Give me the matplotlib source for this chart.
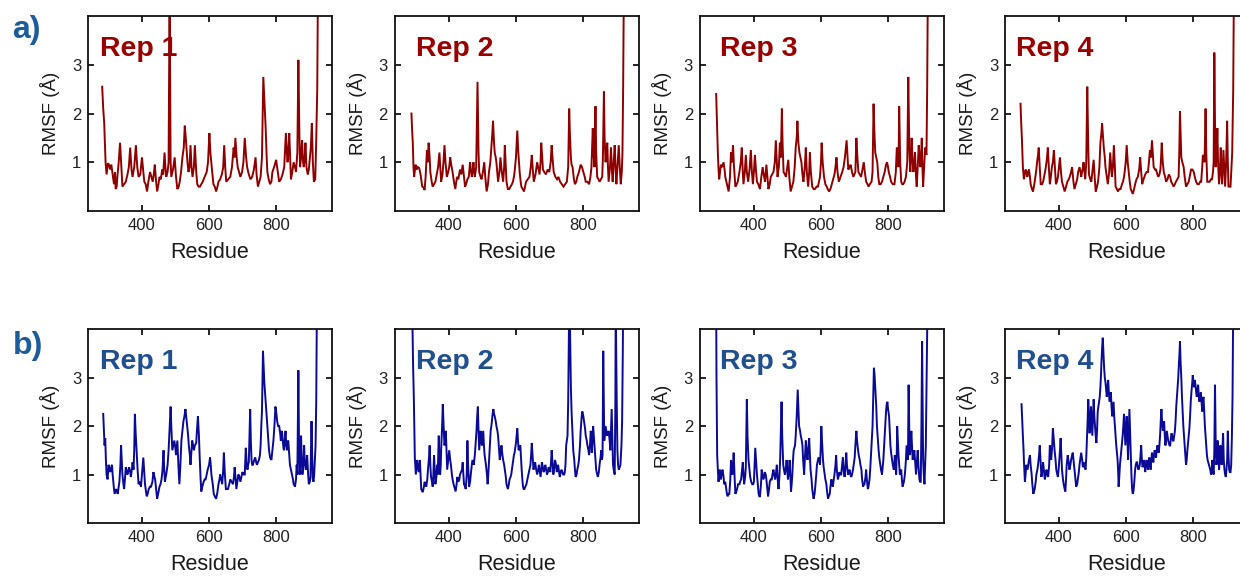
import matplotlib
matplotlib.use("Agg")
import matplotlib.pyplot as plt

plt.rcParams["font.family"] = ["Liberation Sans", "DejaVu Sans"]

# (residue, RMSF in Angstrom) for each replica; row a = system A, row b = system B
A1 = [(283, 2.55), (286, 2.1), (289, 1.8), (293, 1.0), (296, 0.75), (300, 0.98), (303, 0.95), (307, 0.85),
      (310, 0.95), (313, 0.8), (316, 0.65), (318, 0.55), (321, 0.8), (323, 0.45), (326, 0.5), (328, 0.7),
      (332, 1.0), (336, 1.4), (340, 0.9), (343, 0.5), (348, 0.55), (353, 0.6), (358, 0.75), (362, 0.9),
      (366, 1.3), (370, 0.85), (373, 0.7), (378, 0.9), (383, 1.35), (387, 0.9), (391, 0.7), (396, 0.75),
      (401, 1.1), (405, 0.8), (408, 0.6), (412, 0.55), (416, 0.4), (420, 0.6), (425, 0.8), (429, 0.7),
      (433, 0.6), (436, 0.75), (439, 0.95), (443, 0.6), (446, 0.4), (450, 0.55), (453, 0.7), (457, 0.65),
      (461, 0.85), (464, 0.75), (468, 1.2), (471, 0.85), (473, 0.7), (477, 0.8), (480, 1.0), (483, 4.5),
      (486, 1.0), (488, 0.7), (493, 0.85), (498, 1.1), (502, 0.7), (506, 0.45), (510, 0.5), (513, 0.6),
      (517, 0.8), (521, 1.1), (525, 1.3), (528, 1.75), (531, 1.5), (533, 1.3), (536, 1.0), (539, 0.8),
      (542, 0.9), (545, 1.35), (548, 0.9), (551, 0.7), (555, 0.9), (558, 1.35), (562, 0.8), (565, 0.55),
      (569, 0.5), (573, 0.5), (577, 0.55), (581, 0.6), (587, 0.7), (593, 0.8), (597, 1.0), (601, 1.6),
      (604, 1.2), (608, 0.9), (611, 0.7), (613, 0.55), (617, 0.5), (621, 0.4), (625, 0.5), (628, 0.6),
      (633, 0.65), (638, 0.75), (642, 0.9), (645, 1.35), (648, 0.9), (651, 0.6), (657, 0.65), (663, 0.7),
      (668, 0.9), (673, 1.3), (676, 1.1), (678, 1.5), (682, 1.1), (685, 0.9), (689, 0.8), (693, 0.7),
      (698, 0.8), (702, 1.0), (706, 1.5), (710, 1.1), (713, 0.9), (718, 0.75), (723, 0.65), (728, 0.7),
      (733, 0.85), (738, 1.1), (741, 0.75), (745, 0.5), (749, 0.6), (753, 0.7), (757, 1.1), (761, 2.75),
      (764, 2.3), (768, 1.7), (771, 1.1), (773, 0.8), (777, 0.65), (781, 0.55), (785, 0.6), (788, 0.8),
      (793, 0.9), (799, 1.05), (803, 0.85), (808, 0.6), (813, 0.65), (818, 0.75), (823, 0.9), (828, 1.6),
      (831, 1.2), (833, 1.0), (836, 1.3), (838, 1.6), (841, 1.0), (843, 0.65), (847, 0.8), (851, 1.0),
      (855, 0.9), (858, 0.8), (862, 1.2), (865, 3.1), (868, 1.6), (870, 0.9), (873, 1.1), (876, 1.45),
      (879, 1.0), (881, 0.9), (884, 1.1), (886, 1.4), (889, 0.9), (893, 0.75), (896, 0.85), (898, 1.0),
      (902, 1.3), (905, 1.8), (908, 1.0), (911, 0.6), (915, 0.65), (918, 1.45), (921, 2.5), (923, 4.5)]

A2 = [(290, 2.0), (292, 1.65), (294, 1.4), (296, 0.9), (298, 0.7), (302, 0.95), (305, 0.85), (309, 0.9),
      (313, 0.88), (317, 0.75), (320, 0.6), (322, 0.5), (326, 0.48), (329, 0.43), (332, 0.7), (336, 1.25),
      (338, 1.0), (341, 1.4), (344, 1.1), (346, 0.8), (350, 0.6), (353, 0.5), (357, 0.55), (361, 0.6),
      (365, 0.75), (369, 0.9), (373, 1.2), (376, 0.85), (378, 0.6), (382, 0.75), (385, 1.0), (388, 1.35),
      (391, 1.0), (395, 0.7), (399, 0.8), (402, 0.9), (405, 1.1), (408, 0.95), (412, 0.8), (416, 0.6),
      (420, 0.45), (425, 0.7), (429, 0.65), (434, 0.85), (438, 0.75), (442, 0.95), (446, 0.7), (449, 0.5),
      (452, 0.55), (456, 0.65), (460, 0.7), (464, 1.0), (467, 0.8), (469, 0.7), (472, 0.85), (474, 1.0),
      (476, 0.8), (478, 0.7), (482, 0.9), (486, 2.65), (489, 1.2), (491, 0.8), (495, 0.7), (498, 0.65),
      (502, 0.8), (506, 1.0), (509, 0.7), (513, 0.4), (517, 0.55), (520, 0.8), (524, 1.0), (527, 1.3),
      (530, 1.6), (532, 1.85), (535, 1.4), (537, 1.2), (540, 1.1), (542, 1.0), (545, 0.75), (547, 0.6),
      (551, 0.8), (554, 1.1), (558, 0.8), (562, 0.6), (565, 0.9), (567, 1.35), (570, 0.9), (572, 0.6),
      (576, 0.45), (580, 0.45), (584, 0.5), (588, 0.55), (591, 0.6), (594, 0.7), (596, 0.8), (600, 1.1),
      (604, 1.65), (607, 1.2), (611, 0.8), (614, 0.6), (616, 0.5), (620, 0.45), (624, 0.4), (627, 0.5),
      (630, 0.6), (635, 0.65), (640, 0.7), (644, 0.9), (647, 1.15), (650, 0.85), (653, 0.6), (658, 0.75),
      (663, 1.0), (667, 0.85), (670, 0.75), (673, 1.0), (675, 1.4), (678, 1.1), (680, 0.85), (684, 0.8),
      (689, 0.75), (694, 0.85), (699, 0.8), (703, 1.0), (706, 1.35), (709, 1.05), (712, 0.8), (717, 0.7),
      (722, 0.65), (726, 0.7), (731, 0.6), (736, 0.55), (741, 0.5), (746, 0.55), (751, 0.6), (755, 0.9),
      (758, 2.1), (760, 1.6), (763, 1.1), (765, 0.95), (768, 0.9), (772, 0.65), (775, 0.55), (779, 0.6),
      (782, 0.7), (787, 0.8), (792, 0.95), (796, 0.9), (800, 0.8), (804, 0.7), (807, 0.6), (812, 0.6),
      (817, 0.55), (821, 0.7), (824, 0.9), (826, 1.3), (828, 1.7), (830, 1.2), (833, 0.9), (836, 2.15),
      (838, 1.2), (841, 0.7), (845, 0.65), (848, 0.6), (852, 0.65), (856, 0.7), (858, 1.1), (861, 2.45),
      (863, 1.5), (866, 1.0), (868, 1.2), (871, 1.4), (873, 0.9), (875, 0.6), (879, 0.9), (882, 1.3),
      (885, 0.8), (887, 0.6), (890, 1.0), (893, 1.35), (896, 0.8), (898, 0.55), (902, 1.0), (905, 1.35),
      (908, 0.9), (911, 0.55), (914, 0.8), (916, 1.2), (918, 2.5), (920, 4.5)]

A3 = [(289, 2.4), (292, 1.65), (294, 1.2), (296, 0.85), (298, 0.65), (303, 0.95), (307, 0.9), (311, 1.0),
      (314, 0.85), (316, 0.7), (321, 0.55), (324, 0.45), (326, 0.4), (330, 0.7), (333, 1.2), (336, 1.0),
      (339, 1.35), (342, 0.9), (346, 0.5), (350, 0.55), (353, 0.6), (358, 0.8), (362, 1.0), (365, 1.3),
      (368, 0.8), (370, 0.55), (374, 0.8), (377, 1.15), (380, 0.8), (384, 0.6), (388, 0.85), (392, 1.25),
      (395, 0.8), (398, 0.55), (401, 0.8), (404, 1.15), (407, 0.85), (410, 0.6), (414, 0.55), (419, 0.45),
      (423, 0.7), (427, 0.9), (430, 0.75), (434, 0.6), (438, 0.95), (441, 0.7), (444, 0.45), (448, 0.55),
      (451, 0.7), (455, 0.75), (459, 0.8), (463, 1.0), (466, 1.45), (469, 1.0), (471, 0.7), (475, 0.9),
      (478, 1.4), (481, 1.1), (484, 2.1), (486, 1.4), (489, 0.8), (493, 0.75), (496, 0.7), (500, 0.9),
      (503, 1.05), (506, 0.7), (510, 0.4), (514, 0.5), (518, 0.6), (522, 0.9), (525, 1.3), (528, 1.5),
      (530, 1.85), (533, 1.4), (536, 1.2), (539, 1.1), (542, 1.0), (545, 0.75), (548, 0.6), (552, 0.9),
      (555, 1.3), (558, 0.8), (562, 0.5), (565, 0.8), (567, 1.2), (570, 0.8), (574, 0.5), (578, 0.45),
      (582, 0.45), (587, 0.5), (591, 0.5), (594, 0.6), (597, 0.7), (600, 1.0), (602, 1.4), (605, 1.0),
      (609, 0.7), (613, 0.55), (617, 0.5), (620, 0.45), (624, 0.4), (628, 0.45), (632, 0.55), (636, 0.65),
      (640, 0.75), (643, 0.9), (646, 1.1), (649, 0.8), (653, 0.6), (658, 0.7), (663, 0.8), (667, 0.9),
      (671, 1.1), (674, 1.3), (676, 1.45), (679, 1.1), (681, 0.85), (685, 0.9), (688, 0.95), (692, 0.8),
      (696, 0.7), (699, 0.75), (702, 0.8), (705, 1.5), (708, 1.1), (711, 0.8), (715, 0.75), (719, 0.7),
      (723, 0.85), (727, 1.0), (730, 0.8), (734, 0.6), (738, 0.55), (741, 0.5), (745, 0.55), (750, 0.6),
      (753, 0.8), (756, 2.2), (758, 1.7), (761, 1.2), (764, 1.1), (767, 1.0), (770, 0.7), (773, 0.55),
      (777, 0.55), (781, 0.6), (785, 0.7), (789, 0.8), (793, 0.95), (796, 1.0), (799, 0.9), (801, 0.8),
      (805, 0.7), (808, 0.6), (813, 0.55), (818, 0.55), (822, 0.8), (825, 1.3), (828, 1.1), (830, 0.9),
      (832, 2.15), (835, 1.0), (838, 0.6), (841, 0.55), (844, 0.55), (848, 0.6), (852, 0.7), (856, 1.0),
      (859, 2.75), (862, 1.3), (865, 0.8), (867, 1.1), (869, 1.5), (872, 1.0), (874, 0.8), (877, 1.0),
      (879, 1.2), (882, 0.7), (884, 0.5), (887, 0.9), (890, 1.35), (893, 1.1), (895, 0.9), (897, 1.1),
      (899, 1.5), (901, 0.9), (903, 0.5), (906, 0.9), (909, 1.3), (911, 1.2), (913, 1.15), (915, 2.5),
      (917, 4.5)]

A4 = [(287, 2.2), (289, 1.8), (291, 1.5), (294, 0.9), (297, 0.65), (302, 0.85), (305, 0.8), (307, 0.7),
      (310, 0.8), (312, 0.85), (315, 0.7), (317, 0.55), (321, 0.45), (324, 0.4), (328, 0.55), (331, 0.7),
      (334, 0.85), (336, 1.0), (339, 1.15), (341, 1.3), (344, 0.9), (347, 0.55), (351, 0.55), (354, 0.6),
      (358, 0.75), (361, 0.85), (365, 1.05), (368, 1.3), (371, 0.9), (374, 0.55), (377, 0.7), (380, 0.9),
      (383, 1.0), (386, 1.25), (389, 0.9), (392, 0.55), (395, 0.6), (398, 0.7), (401, 0.9), (404, 1.1),
      (407, 0.8), (410, 0.6), (414, 0.5), (418, 0.4), (422, 0.5), (426, 0.6), (430, 0.65), (433, 0.7),
      (437, 0.8), (440, 0.9), (444, 0.6), (447, 0.45), (451, 0.55), (455, 0.65), (458, 0.8), (462, 0.9),
      (465, 0.8), (467, 0.7), (471, 0.85), (474, 1.0), (477, 0.8), (479, 0.65), (482, 1.0), (485, 2.55),
      (488, 1.3), (490, 0.75), (494, 0.65), (497, 0.6), (501, 0.85), (504, 1.05), (507, 0.7), (510, 0.4),
      (514, 0.5), (517, 0.6), (521, 0.9), (524, 1.4), (527, 1.6), (529, 1.8), (532, 1.5), (534, 1.3),
      (537, 1.1), (539, 0.9), (543, 0.7), (546, 0.55), (550, 0.8), (553, 1.2), (556, 0.9), (558, 0.7),
      (561, 0.9), (564, 1.35), (567, 0.9), (569, 0.5), (573, 0.45), (576, 0.4), (580, 0.45), (584, 0.45),
      (588, 0.55), (591, 0.6), (594, 0.7), (596, 0.8), (599, 1.0), (602, 1.35), (605, 1.0), (608, 0.8),
      (611, 0.6), (614, 0.45), (617, 0.4), (620, 0.35), (624, 0.45), (627, 0.55), (631, 0.65), (635, 0.7),
      (639, 0.85), (642, 1.1), (645, 0.8), (648, 0.55), (652, 0.65), (657, 0.75), (661, 0.8), (665, 0.8),
      (668, 1.0), (671, 1.25), (674, 1.1), (677, 1.45), (680, 1.1), (682, 0.9), (686, 0.85), (689, 0.85),
      (693, 0.75), (696, 0.7), (699, 0.75), (702, 0.85), (704, 1.1), (706, 1.4), (709, 1.0), (712, 0.8),
      (716, 0.7), (719, 0.6), (723, 0.65), (727, 0.75), (731, 0.7), (734, 0.6), (738, 0.55), (741, 0.5),
      (745, 0.55), (748, 0.6), (752, 0.65), (756, 0.7), (758, 1.2), (760, 2.05), (762, 1.6), (764, 1.1),
      (767, 1.0), (771, 0.9), (774, 0.7), (778, 0.5), (782, 0.55), (786, 0.6), (790, 0.75), (793, 0.85),
      (797, 0.85), (801, 0.8), (804, 0.7), (808, 0.6), (812, 0.55), (816, 0.55), (820, 0.6), (823, 0.6),
      (826, 0.9), (828, 1.15), (831, 1.1), (833, 1.0), (836, 2.1), (838, 1.2), (841, 0.6), (845, 0.6),
      (848, 0.6), (852, 0.65), (855, 0.65), (858, 0.8), (860, 1.0), (862, 3.25), (864, 1.8), (866, 0.9),
      (869, 1.2), (871, 1.7), (873, 1.0), (876, 0.55), (879, 0.9), (881, 1.3), (883, 0.8), (885, 0.55),
      (887, 0.9), (889, 1.25), (892, 0.8), (894, 0.5), (897, 1.0), (900, 1.85), (902, 1.0), (904, 0.5),
      (907, 0.5), (910, 0.5), (913, 0.9), (915, 1.2), (918, 2.5), (920, 4.5)]

B1 = [(286, 2.25), (288, 1.9), (290, 1.6), (292, 1.75), (294, 1.3), (296, 1.0), (299, 0.9), (302, 1.2),
      (305, 1.1), (307, 1.05), (310, 1.15), (312, 1.2), (314, 1.0), (316, 0.85), (318, 0.7), (320, 0.6),
      (322, 0.65), (324, 0.7), (327, 0.65), (329, 0.6), (332, 0.75), (334, 0.85), (337, 1.2), (339, 1.6),
      (341, 1.3), (343, 1.0), (346, 0.8), (348, 0.7), (351, 0.95), (353, 1.15), (356, 1.05), (358, 1.0),
      (361, 1.1), (363, 1.15), (366, 1.05), (368, 0.95), (371, 1.1), (373, 1.25), (376, 1.1), (378, 1.5),
      (380, 2.25), (382, 1.9), (385, 1.5), (388, 1.1), (391, 0.8), (394, 0.85), (398, 0.75), (401, 1.0),
      (405, 1.35), (408, 1.0), (410, 0.8), (413, 0.65), (415, 0.55), (418, 0.6), (421, 0.7), (425, 0.75),
      (428, 0.75), (432, 0.85), (435, 1.05), (438, 0.95), (440, 0.9), (443, 0.7), (446, 0.5), (449, 0.6),
      (453, 0.75), (456, 0.8), (459, 0.9), (462, 1.1), (465, 1.5), (467, 1.1), (469, 0.85), (473, 1.0),
      (477, 1.2), (480, 1.5), (482, 1.8), (484, 2.1), (486, 2.4), (488, 2.0), (491, 1.5), (494, 1.6),
      (497, 1.7), (500, 1.55), (502, 1.4), (504, 1.55), (506, 1.7), (509, 1.2), (512, 0.8), (515, 1.2),
      (518, 1.7), (521, 1.9), (524, 2.1), (527, 2.2), (530, 2.35), (533, 2.15), (535, 2.0), (538, 1.8),
      (540, 1.6), (543, 1.4), (545, 1.2), (548, 1.5), (550, 1.7), (553, 1.6), (555, 1.5), (558, 1.6),
      (562, 1.65), (564, 1.9), (567, 2.2), (570, 1.8), (572, 1.4), (575, 0.9), (577, 0.65), (580, 0.75),
      (584, 0.85), (587, 0.9), (590, 0.9), (593, 1.0), (596, 1.1), (600, 1.2), (603, 1.35), (605, 1.2),
      (607, 1.0), (611, 0.8), (614, 0.6), (617, 0.55), (621, 0.5), (624, 0.6), (628, 0.8), (631, 0.9),
      (633, 1.0), (636, 0.9), (639, 0.8), (642, 1.1), (644, 1.45), (647, 1.0), (650, 0.7), (653, 0.7),
      (656, 0.7), (660, 0.8), (663, 0.9), (667, 0.85), (671, 0.8), (674, 0.95), (676, 1.15), (679, 0.9),
      (681, 0.7), (684, 0.85), (687, 1.0), (690, 0.95), (693, 0.85), (696, 0.95), (699, 1.05), (703, 1.0),
      (706, 1.0), (709, 1.55), (712, 1.2), (714, 1.1), (716, 1.2), (718, 1.25), (720, 1.8), (722, 2.35),
      (724, 1.7), (726, 1.3), (728, 1.2), (730, 1.2), (734, 1.3), (737, 1.35), (740, 1.25), (742, 1.2),
      (745, 1.25), (748, 1.3), (751, 1.4), (753, 1.6), (755, 2.0), (757, 2.3), (760, 3.55), (762, 3.2),
      (764, 2.9), (766, 2.7), (768, 2.5), (771, 2.2), (773, 2.0), (776, 1.7), (778, 1.5), (781, 1.35),
      (785, 1.3), (788, 1.5), (791, 1.7), (794, 2.0), (797, 2.4), (800, 2.25), (802, 2.1), (805, 2.0),
      (808, 2.0), (811, 1.85), (813, 1.7), (815, 1.9), (817, 1.85), (820, 1.6), (822, 1.5), (825, 1.75),
      (827, 1.9), (829, 1.6), (831, 1.5), (833, 1.65), (835, 1.7), (838, 1.4), (840, 1.2), (843, 1.1),
      (846, 1.0), (849, 0.9), (851, 0.8), (853, 0.78), (855, 0.75), (858, 0.9), (860, 1.2), (862, 1.0),
      (865, 3.15), (867, 1.6), (869, 1.0), (871, 1.3), (873, 1.8), (875, 1.3), (877, 1.0), (880, 1.2),
      (882, 1.6), (884, 1.3), (887, 1.1), (889, 1.2), (891, 1.4), (894, 1.0), (896, 0.8), (899, 0.85),
      (901, 0.95), (904, 2.1), (906, 1.4), (908, 0.9), (910, 0.85), (912, 1.0), (914, 1.3), (916, 1.6),
      (918, 2.5), (920, 4.5)]

B2 = [(287, 5.0), (292, 4.5), (295, 3.2), (297, 2.6), (300, 1.35), (303, 1.0), (305, 1.15), (307, 1.3),
      (310, 1.1), (312, 1.05), (315, 1.3), (317, 1.0), (319, 0.7), (322, 0.65), (324, 0.65), (327, 0.75),
      (329, 0.85), (332, 0.8), (334, 0.75), (337, 0.9), (339, 1.1), (342, 1.35), (344, 1.6), (346, 1.2),
      (348, 0.95), (351, 0.85), (353, 0.75), (355, 1.0), (357, 1.4), (359, 1.1), (361, 0.8), (364, 0.95),
      (366, 1.2), (368, 1.0), (371, 1.8), (373, 1.3), (375, 1.0), (377, 1.2), (378, 1.5), (381, 2.0),
      (383, 2.45), (386, 1.9), (388, 1.6), (390, 1.7), (392, 1.9), (394, 1.5), (396, 1.1), (399, 1.3),
      (402, 1.5), (405, 1.3), (407, 1.2), (410, 1.0), (412, 0.9), (415, 0.8), (417, 0.75), (419, 0.7),
      (421, 0.65), (424, 0.8), (426, 0.95), (429, 0.85), (432, 0.9), (434, 1.0), (437, 1.05), (440, 1.1),
      (442, 1.25), (444, 1.0), (446, 0.8), (449, 0.75), (451, 0.7), (454, 1.0), (456, 1.7), (458, 1.2),
      (461, 0.75), (464, 0.85), (466, 1.0), (469, 1.2), (471, 1.3), (473, 1.25), (475, 1.2), (478, 1.4),
      (480, 1.6), (483, 1.9), (485, 2.2), (487, 2.4), (489, 1.9), (491, 1.5), (493, 1.7), (495, 1.9),
      (497, 1.7), (499, 1.6), (501, 1.75), (503, 1.9), (505, 1.6), (507, 1.4), (509, 1.3), (511, 1.2),
      (514, 1.0), (516, 0.8), (518, 1.0), (521, 1.4), (523, 1.65), (525, 1.9), (528, 2.05), (530, 2.2),
      (533, 2.35), (535, 2.25), (537, 2.2), (540, 2.1), (542, 2.0), (545, 1.9), (547, 1.8), (550, 1.5),
      (552, 1.3), (555, 1.45), (557, 1.6), (560, 1.4), (562, 1.3), (565, 1.2), (567, 1.1), (570, 0.95),
      (572, 0.8), (574, 0.75), (576, 0.7), (579, 0.8), (581, 0.9), (584, 0.95), (586, 1.0), (589, 1.15),
      (592, 1.3), (594, 1.4), (596, 1.45), (598, 1.55), (600, 1.65), (602, 1.8), (604, 1.95), (606, 1.7),
      (608, 1.5), (610, 1.55), (613, 1.6), (615, 1.35), (617, 1.1), (619, 0.9), (621, 0.75), (623, 0.7),
      (625, 0.7), (628, 0.75), (631, 0.8), (634, 0.9), (637, 1.0), (640, 1.1), (643, 1.2), (645, 1.4),
      (647, 1.65), (650, 1.3), (652, 1.1), (655, 1.2), (657, 1.25), (660, 1.1), (663, 1.0), (666, 1.1),
      (668, 1.2), (671, 1.05), (673, 0.95), (675, 1.1), (677, 1.25), (680, 1.15), (682, 1.05), (685, 1.1),
      (687, 1.2), (690, 1.1), (692, 1.0), (695, 1.05), (697, 1.15), (700, 1.1), (702, 1.05), (704, 1.25),
      (706, 1.5), (709, 1.2), (711, 1.0), (714, 1.15), (716, 1.3), (719, 1.2), (721, 1.05), (723, 1.1),
      (725, 1.2), (728, 1.05), (730, 0.95), (733, 1.05), (735, 1.1), (738, 1.05), (740, 1.0), (743, 1.0),
      (745, 1.05), (747, 1.2), (749, 1.6), (751, 1.7), (753, 1.8), (755, 2.5), (756, 3.2), (758, 4.5),
      (760, 4.2), (763, 2.8), (765, 2.3), (768, 1.8), (770, 1.5), (773, 1.3), (775, 1.1), (777, 0.95),
      (780, 1.0), (782, 1.1), (785, 1.2), (787, 1.3), (790, 1.6), (792, 1.9), (795, 2.2), (797, 2.3),
      (800, 2.2), (802, 2.1), (805, 1.95), (807, 1.8), (810, 1.7), (812, 1.6), (815, 1.5), (817, 1.4),
      (820, 1.65), (822, 1.9), (824, 1.7), (825, 1.45), (827, 1.7), (829, 2.0), (832, 1.7), (834, 1.5),
      (836, 1.3), (838, 1.1), (841, 1.0), (843, 0.95), (846, 1.05), (848, 1.2), (851, 1.35), (853, 1.5),
      (855, 1.3), (857, 1.4), (859, 3.55), (861, 2.2), (862, 1.7), (864, 1.85), (866, 2.0), (868, 1.9),
      (870, 1.8), (873, 1.85), (875, 1.9), (878, 1.7), (880, 1.5), (882, 1.9), (884, 2.35), (886, 1.8),
      (888, 1.2), (890, 1.1), (893, 1.0), (895, 2.5), (896, 4.5), (899, 2.5), (901, 1.5), (903, 1.2),
      (905, 1.1), (908, 1.15), (910, 1.2), (913, 1.6), (915, 2.1), (917, 3.5), (918, 4.5)]

B3 = [(289, 4.5), (290, 3.0), (292, 1.4), (294, 1.1), (296, 0.85), (298, 1.0), (300, 1.1), (303, 0.9),
      (306, 1.05), (308, 1.1), (311, 0.95), (313, 0.8), (316, 0.85), (318, 0.75), (321, 0.6), (323, 0.55),
      (326, 0.6), (328, 0.6), (331, 0.9), (333, 1.3), (335, 1.1), (337, 1.0), (339, 1.2), (341, 1.45),
      (344, 0.9), (346, 0.6), (349, 0.65), (351, 0.7), (354, 0.8), (358, 0.8), (360, 0.85), (363, 0.9),
      (366, 1.1), (368, 1.25), (370, 1.0), (372, 0.8), (375, 0.95), (377, 1.15), (378, 1.6), (380, 2.55),
      (382, 1.8), (385, 1.3), (388, 1.1), (390, 0.95), (393, 0.85), (396, 0.8), (399, 0.8), (401, 0.85),
      (403, 1.2), (405, 1.55), (408, 1.2), (410, 1.0), (413, 0.75), (415, 0.6), (417, 0.55), (419, 0.55),
      (422, 0.8), (424, 1.1), (426, 1.0), (429, 0.9), (431, 0.95), (433, 1.05), (436, 1.0), (438, 0.9),
      (441, 0.7), (443, 0.55), (446, 0.7), (448, 0.85), (451, 0.9), (454, 0.9), (456, 1.0), (459, 1.1),
      (461, 1.0), (464, 0.9), (466, 1.0), (469, 1.2), (471, 0.95), (474, 0.7), (477, 1.0), (479, 1.35),
      (481, 1.9), (483, 2.5), (485, 1.8), (488, 1.2), (490, 1.1), (493, 1.0), (496, 1.15), (498, 1.3),
      (500, 1.1), (502, 0.9), (505, 1.1), (507, 1.3), (509, 1.0), (511, 0.65), (513, 0.8), (515, 1.0),
      (517, 1.3), (519, 1.5), (521, 1.55), (523, 1.6), (525, 1.8), (528, 2.2), (531, 2.75), (533, 2.4),
      (535, 2.0), (538, 1.9), (540, 1.8), (543, 1.7), (545, 1.6), (547, 1.3), (550, 1.0), (552, 1.3),
      (555, 1.7), (557, 1.5), (560, 1.3), (562, 1.5), (565, 1.75), (567, 1.4), (569, 1.1), (572, 0.9),
      (574, 0.7), (576, 0.6), (578, 0.5), (581, 0.6), (583, 0.75), (586, 1.0), (588, 1.2), (591, 1.3),
      (593, 1.35), (595, 1.3), (597, 1.2), (599, 1.5), (601, 2.0), (603, 1.7), (606, 1.3), (608, 1.15),
      (611, 1.0), (613, 0.9), (616, 0.8), (618, 0.65), (621, 0.5), (623, 0.55), (626, 0.6), (628, 0.75),
      (631, 0.9), (633, 0.8), (635, 0.75), (638, 0.9), (640, 1.0), (643, 1.2), (645, 1.4), (647, 1.1),
      (650, 0.9), (652, 0.95), (655, 1.05), (657, 1.0), (660, 1.0), (662, 1.15), (665, 1.35), (667, 1.1),
      (670, 0.95), (672, 1.1), (675, 1.45), (677, 1.2), (680, 1.0), (682, 1.05), (685, 1.1), (687, 1.0),
      (690, 0.95), (692, 1.0), (695, 1.1), (697, 1.2), (700, 1.35), (702, 1.6), (705, 1.9), (707, 1.7),
      (710, 1.5), (712, 1.4), (715, 1.3), (717, 1.2), (720, 1.1), (722, 0.9), (725, 0.75), (727, 0.8),
      (729, 0.8), (732, 0.95), (734, 1.1), (736, 0.9), (739, 0.7), (741, 0.75), (744, 0.9), (746, 1.1),
      (749, 1.5), (751, 1.8), (753, 2.0), (755, 2.6), (757, 3.2), (759, 3.05), (761, 2.8), (764, 2.4),
      (766, 2.0), (768, 1.8), (771, 1.5), (773, 1.35), (776, 1.2), (778, 1.1), (781, 1.0), (783, 1.15),
      (785, 1.3), (787, 1.55), (789, 1.8), (791, 2.05), (793, 2.3), (795, 2.45), (797, 2.5), (799, 2.35),
      (802, 2.2), (804, 1.9), (806, 1.6), (808, 1.45), (811, 1.3), (813, 1.2), (816, 1.1), (818, 1.25),
      (819, 1.4), (821, 1.2), (823, 1.0), (825, 1.5), (826, 2.0), (828, 1.7), (830, 1.4), (832, 1.2),
      (834, 1.0), (836, 1.05), (838, 1.1), (840, 0.9), (842, 0.75), (844, 0.8), (846, 0.85), (848, 0.95),
      (850, 1.1), (852, 1.3), (854, 1.6), (856, 1.45), (858, 1.3), (860, 2.85), (862, 1.9), (864, 1.4),
      (866, 1.6), (868, 1.9), (870, 1.6), (872, 1.3), (875, 1.4), (877, 1.5), (880, 1.2), (882, 1.0),
      (884, 1.2), (887, 1.5), (889, 1.2), (892, 0.9), (894, 0.85), (896, 0.85), (898, 2.0), (900, 3.75),
      (902, 2.2), (903, 1.3), (905, 1.0), (907, 0.8), (909, 1.2), (911, 1.6), (913, 2.8), (916, 4.5)]

B4 = [(290, 2.45), (292, 2.1), (294, 1.8), (296, 1.5), (297, 1.3), (300, 0.85), (302, 1.0), (304, 1.2),
      (306, 1.15), (308, 1.1), (310, 1.2), (312, 1.3), (315, 1.4), (317, 1.2), (320, 1.0), (322, 0.8),
      (325, 0.6), (327, 0.65), (329, 0.7), (332, 0.85), (334, 1.0), (337, 1.1), (339, 1.2), (342, 1.4),
      (344, 1.6), (347, 1.2), (349, 0.95), (352, 1.1), (354, 1.25), (357, 1.05), (359, 0.9), (362, 1.0),
      (364, 1.1), (367, 1.0), (369, 0.95), (372, 1.2), (374, 1.6), (376, 1.45), (378, 1.3), (381, 1.6),
      (383, 1.95), (386, 1.7), (388, 1.5), (391, 1.3), (393, 1.1), (396, 1.0), (398, 0.95), (400, 1.1),
      (402, 1.3), (404, 1.5), (406, 1.75), (408, 1.4), (410, 1.1), (413, 0.9), (415, 0.8), (418, 0.7),
      (420, 0.65), (422, 0.9), (424, 1.2), (427, 1.4), (430, 1.25), (432, 1.1), (435, 1.2), (437, 1.3),
      (440, 1.4), (442, 1.45), (445, 1.25), (447, 1.1), (450, 0.9), (452, 0.75), (455, 0.8), (457, 0.9),
      (460, 1.05), (462, 1.2), (465, 1.35), (467, 1.45), (470, 1.3), (472, 1.15), (474, 1.2), (476, 1.25),
      (478, 1.15), (480, 1.1), (482, 1.35), (484, 1.7), (486, 2.1), (488, 2.55), (490, 2.2), (492, 1.85),
      (494, 2.1), (496, 2.4), (498, 2.1), (500, 1.8), (502, 2.2), (504, 2.55), (506, 2.2), (508, 2.0),
      (510, 1.8), (512, 1.65), (514, 1.9), (516, 2.3), (518, 2.4), (520, 2.5), (522, 2.6), (524, 2.8),
      (526, 3.1), (527, 3.3), (529, 3.6), (531, 3.82), (533, 3.5), (535, 3.2), (537, 3.0), (539, 2.9),
      (541, 2.75), (543, 2.6), (545, 2.8), (547, 2.95), (549, 2.7), (551, 2.5), (553, 2.6), (555, 2.7),
      (557, 2.4), (559, 2.2), (561, 2.35), (563, 2.5), (565, 2.2), (567, 2.0), (569, 1.8), (571, 1.6),
      (573, 1.45), (575, 1.3), (577, 1.0), (578, 0.75), (580, 0.95), (582, 1.2), (584, 1.35), (586, 1.5),
      (588, 1.65), (590, 1.8), (592, 2.0), (594, 2.25), (596, 1.9), (598, 1.6), (600, 1.9), (602, 2.2),
      (604, 1.8), (606, 1.3), (608, 1.8), (610, 2.35), (612, 1.9), (614, 1.5), (616, 1.0), (618, 0.7),
      (620, 0.6), (622, 0.65), (624, 0.8), (625, 0.9), (627, 1.1), (629, 1.2), (631, 1.25), (633, 1.25),
      (635, 1.15), (637, 1.1), (639, 1.15), (641, 1.2), (643, 1.4), (645, 1.6), (647, 1.3), (649, 1.15),
      (651, 1.2), (653, 1.3), (655, 1.2), (657, 1.05), (659, 1.2), (661, 1.3), (663, 1.2), (665, 1.1),
      (667, 1.25), (669, 1.35), (671, 1.2), (673, 1.1), (675, 1.3), (677, 1.45), (679, 1.35), (681, 1.25),
      (683, 1.4), (685, 1.5), (687, 1.4), (689, 1.35), (691, 1.5), (693, 1.6), (695, 1.5), (697, 1.45),
      (699, 1.6), (701, 1.8), (703, 2.1), (705, 2.35), (707, 2.1), (709, 1.9), (711, 2.0), (713, 2.1),
      (715, 1.8), (717, 1.6), (719, 1.75), (721, 1.9), (723, 1.8), (725, 1.7), (727, 1.65), (729, 1.6),
      (731, 1.6), (733, 1.75), (735, 1.85), (737, 1.8), (739, 1.7), (741, 1.7), (743, 1.8), (745, 1.9),
      (747, 2.1), (749, 2.4), (751, 2.6), (753, 2.8), (755, 3.0), (757, 3.3), (759, 3.55), (760, 3.75),
      (762, 3.3), (764, 3.0), (766, 2.6), (768, 2.3), (770, 2.0), (772, 1.8), (774, 1.6), (776, 1.4),
      (778, 1.2), (780, 1.3), (782, 1.5), (784, 1.65), (786, 1.8), (788, 1.95), (790, 2.2), (792, 2.5),
      (794, 2.7), (796, 2.85), (798, 3.05), (800, 2.9), (802, 2.8), (804, 2.95), (806, 2.85), (808, 2.7),
      (810, 2.6), (812, 2.75), (814, 2.85), (816, 2.6), (818, 2.5), (820, 2.6), (822, 2.7), (824, 2.5),
      (826, 2.3), (828, 2.55), (830, 2.6), (832, 2.3), (834, 2.0), (836, 1.8), (838, 1.6), (840, 1.4),
      (842, 1.3), (844, 1.25), (846, 1.2), (848, 1.15), (850, 1.1), (852, 1.0), (854, 1.05), (856, 1.3),
      (858, 1.1), (860, 1.0), (862, 1.5), (864, 2.85), (866, 1.7), (868, 1.2), (870, 1.3), (872, 1.7),
      (874, 1.4), (876, 1.1), (878, 1.3), (880, 1.6), (882, 1.3), (884, 1.2), (886, 1.5), (888, 1.85),
      (890, 1.3), (892, 1.1), (894, 1.0), (896, 0.95), (898, 1.1), (900, 1.3), (902, 1.9), (904, 1.4),
      (906, 1.1), (908, 1.05), (910, 1.05), (912, 1.2), (914, 1.75), (916, 2.6), (918, 4.5)]

REP_LABELS = ["Rep 1", "Rep 2", "Rep 3", "Rep 4"]
ROW_LABELS = ["a)", "b)"]
X_TICKS = [400, 600, 800]
Y_TICKS = [1, 2, 3]

rows = [
    dict(series=[A1, A2, A3, A4], line="#900000", text="#990000", bottom=0.6337, height=0.3385, tag_y=0.948),
    dict(series=[B1, B2, B3, B4], line="#0a0a96", text="#1f4f8f", bottom=0.0920, height=0.3368, tag_y=0.399),
]
col_left = [0.0710, 0.3185, 0.5645, 0.8105]
col_width = 0.1968
rep_x = [0.05, 0.086, 0.08, 0.045]

fig = plt.figure(figsize=(12.4, 5.76), dpi=100)

for r, row in enumerate(rows):
    fig.text(0.0100, row["tag_y"], ROW_LABELS[r], fontsize=23, fontweight="bold",
             color="#1d5c9c", ha="left", va="center")
    for c, data in enumerate(row["series"]):
        ax = fig.add_axes([col_left[c], row["bottom"], col_width, row["height"]])
        res, rmsf = zip(*data)
        ax.plot(res, rmsf, color=row["line"], lw=1.4, solid_joinstyle="miter")
        ax.set_xlim(241, 965)
        ax.set_ylim(0, 4.0)
        ax.set_xticks(X_TICKS)
        ax.set_yticks(Y_TICKS)
        ax.tick_params(direction="in", top=True, right=True, length=4.5, width=1.2,
                       labelsize=12, labelcolor="#222222", pad=5)
        for sp in ax.spines.values():
            sp.set_linewidth(1.3)
            sp.set_color("#111111")
        ax.set_xlabel("Residue", fontsize=15.5, color="#1a1a1a")
        ax.xaxis.label.set_va("center")
        ax.xaxis.set_label_coords(0.5, -0.215)
        ax.set_ylabel("RMSF (Å)", fontsize=13.5, color="#1a1a1a")
        ax.yaxis.label.set_va("center")
        ax.yaxis.set_label_coords(-0.155, 0.5)
        ax.text(rep_x[c], 0.83, REP_LABELS[c], transform=ax.transAxes, fontsize=20.5,
                fontweight="bold", color=row["text"], ha="left", va="center")

fig.savefig("out.png", dpi=100)
